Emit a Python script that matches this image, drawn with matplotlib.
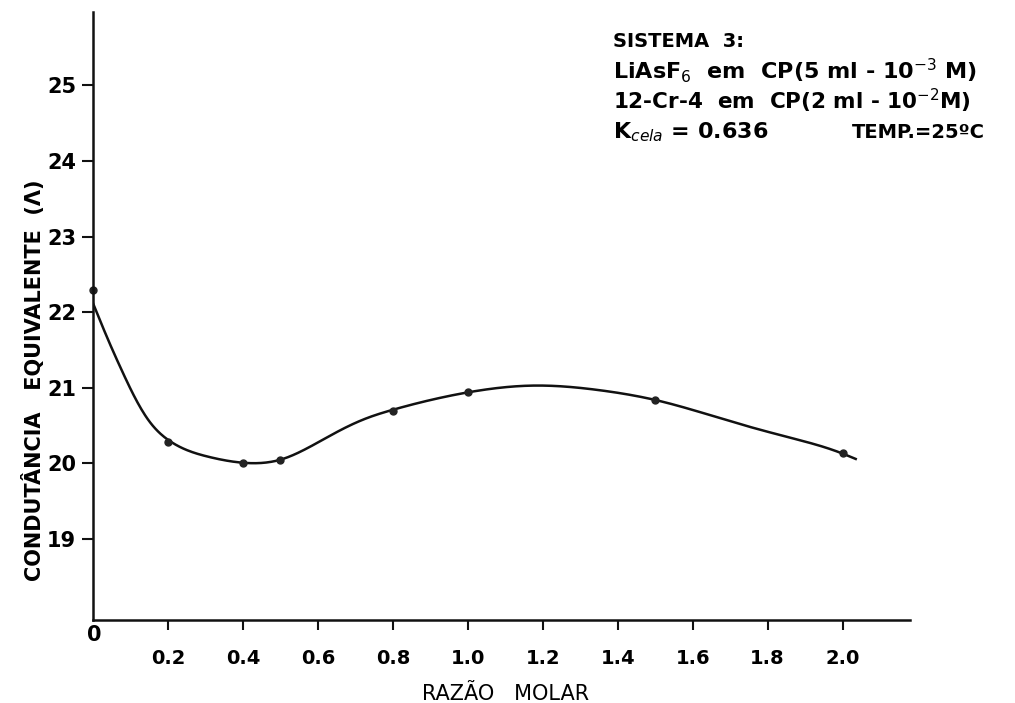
import numpy as np
import matplotlib
matplotlib.use("Agg")
import matplotlib.pyplot as plt

# measured points (razao molar, condutancia equivalente)
razao = [0.0, 0.2, 0.4, 0.5, 0.8, 1.0, 1.5, 2.0]
condutancia = [22.30, 20.29, 20.00, 20.05, 20.70, 20.94, 20.84, 20.14]

# hand drawn curve
curve_x = [0.0, 0.04, 0.076, 0.111, 0.147, 0.207, 0.307, 0.4, 0.5, 0.571, 0.66,
           0.731, 0.8, 1.0, 1.175, 1.35, 1.5, 1.727, 1.861, 1.99, 2.035]
curve_y = [22.12, 21.64, 21.24, 20.88, 20.58, 20.29, 20.09, 20.01, 20.05, 20.20, 20.44,
           20.60, 20.71, 20.94, 21.03, 20.97, 20.84, 20.52, 20.34, 20.15, 20.06]

x_ticks = [0.2, 0.4, 0.6, 0.8, 1.0, 1.2, 1.4, 1.6, 1.8, 2.0]
x_labels = ["0.2", "0.4", "0.6", "0.8", "1.0", "1.2", "1.4", "1.6", "1.8", "2.0"]
y_ticks = [19, 20, 21, 22, 23, 24, 25]
y_labels = ["19", "20", "21", "22", "23", "24", "25"]


def natural_spline(x, y, xs):
    x = np.asarray(x, float)
    y = np.asarray(y, float)
    n = len(x)
    h = np.diff(x)
    A = np.zeros((n, n))
    b = np.zeros(n)
    A[0, 0] = A[-1, -1] = 1.0
    for i in range(1, n - 1):
        A[i, i - 1] = h[i - 1]
        A[i, i] = 2 * (h[i - 1] + h[i])
        A[i, i + 1] = h[i]
        b[i] = 6 * ((y[i + 1] - y[i]) / h[i] - (y[i] - y[i - 1]) / h[i - 1])
    m = np.linalg.solve(A, b)
    idx = np.clip(np.searchsorted(x, xs) - 1, 0, n - 2)
    x0, x1 = x[idx], x[idx + 1]
    hh = x1 - x0
    t0 = x1 - xs
    t1 = xs - x0
    return (m[idx] * t0**3 / (6 * hh) + m[idx + 1] * t1**3 / (6 * hh)
            + (y[idx] / hh - m[idx] * hh / 6) * t0
            + (y[idx + 1] / hh - m[idx + 1] * hh / 6) * t1)


fig = plt.figure(figsize=(10.15, 7.03), dpi=100)
ax = fig.add_axes([0.0916, 0.118, 0.805, 0.865])

xs = np.linspace(curve_x[0], curve_x[-1], 600)
ax.plot(xs, natural_spline(curve_x, curve_y, xs), color="#111111", lw=1.8)
ax.plot(razao, condutancia, "o", color="#222222", ms=5, clip_on=False)

ax.set_xlim(0, 2.18)
ax.set_ylim(17.93, 25.97)
ax.spines["top"].set_visible(False)
ax.spines["right"].set_visible(False)
for s in ("left", "bottom"):
    ax.spines[s].set_linewidth(1.8)
    ax.spines[s].set_color("#111111")

ax.set_xticks(x_ticks)
ax.set_xticklabels(x_labels, fontsize=14, fontweight="bold")
ax.set_yticks(y_ticks)
ax.set_yticklabels(y_labels, fontsize=15, fontweight="bold")
ax.tick_params(axis="x", length=7, width=1.5, pad=14, color="#111111")
ax.tick_params(axis="y", length=8, width=1.5, pad=4, color="#111111")

ax.text(0.002, -0.008, "0", transform=ax.transAxes, fontsize=15,
        fontweight="bold", ha="center", va="top")

ax.set_xlabel("RAZÃO   MOLAR", fontsize=15)
ax.xaxis.set_label_coords(0.505, -0.105)
ax.set_ylabel("CONDUTÂNCIA   EQUIVALENTE  (Λ)", fontsize=15, fontweight="bold")
ax.yaxis.set_label_coords(-0.059, 0.395)

tx = 0.636
ax.text(tx, 0.943, "SISTEMA  3:", transform=ax.transAxes, fontsize=14,
        fontweight="bold")
ax.text(tx, 0.89, r"LiAsF$_6$  em  CP(5 ml - 10$^{-3}$ M)", transform=ax.transAxes,
        fontsize=16, fontweight="bold")
ax.text(tx, 0.84, r"12-Cr-4  em  CP(2 ml - 10$^{-2}$M)", transform=ax.transAxes,
        fontsize=15.5, fontweight="bold")
ax.text(tx, 0.792, r"K$_{cela}$ = 0.636", transform=ax.transAxes,
        fontsize=16, fontweight="bold")
ax.text(0.929, 0.792, "TEMP.=25ºC", transform=ax.transAxes,
        fontsize=14, fontweight="bold", ha="left")

fig.savefig("out.png", dpi=100)
